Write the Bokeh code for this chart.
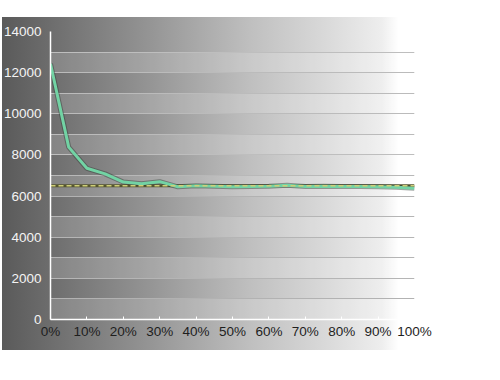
from bokeh.plotting import figure
from bokeh.models import Range1d, FixedTicker, PrintfTickFormatter, InlineStyleSheet
from bokeh.embed import file_html
from bokeh.resources import INLINE

# ---- data ----
x_pct = [0, 5, 10, 15, 20, 25, 30, 35, 40, 45, 50, 55, 60, 65, 70, 75, 80, 85, 90, 95, 100]
measured = [12430, 8380, 7350, 7080, 6680, 6600, 6700, 6450, 6500, 6480, 6450,
            6460, 6480, 6530, 6460, 6480, 6470, 6460, 6450, 6430, 6380]
target_x = [0, 100]
target_y = [6500, 6500]
y_tick_values = [0, 2000, 4000, 6000, 8000, 10000, 12000, 14000]
grid_values = [0, 1000, 2000, 3000, 4000, 5000, 6000, 7000, 8000, 9000, 10000,
               11000, 12000, 13000, 14000]
x_tick_values = [0, 10, 20, 30, 40, 50, 60, 70, 80, 90, 100]

W, H = 490, 372
css = InlineStyleSheet(css="""
:host {
  background-color: #ffffff;
  background-image: linear-gradient(to right, #5a5a5a 0%, #6c6c6c 11%, #959595 36%,
      #bfbfbf 60%, #dadada 79%, #eeeeee 92%, #ffffff 96%, #ffffff 100%);
  background-size: 413px 333px;
  background-position: 2px 17px;
  background-repeat: no-repeat;
}
""")

p = figure(width=W, height=H, output_backend="svg", toolbar_location=None,
           x_range=Range1d(0, 100), y_range=Range1d(0, 14000),
           min_border_left=48, min_border_right=W - 414,
           min_border_top=31, min_border_bottom=H - 319,
           border_fill_color=None, background_fill_color=None,
           outline_line_color=None)
p.stylesheets = [css]

# grid
p.xgrid.visible = False
p.ygrid.ticker = FixedTicker(ticks=grid_values)
p.ygrid.grid_line_color = "#b2b2b2"
p.ygrid.grid_line_width = 1

# lighter alternate bands (0-1000, 2000-3000, ...)
p.quad(left=x_tick_values[0], right=x_tick_values[-1],
       bottom=grid_values[0:-1:2], top=grid_values[1::2],
       fill_color="white", fill_alpha=0.16, line_color=None)

# axes
p.yaxis.ticker = FixedTicker(ticks=y_tick_values)
p.yaxis.axis_line_color = "white"
p.yaxis.axis_line_width = 1.5
p.yaxis.major_tick_line_color = None
p.yaxis.minor_tick_line_color = None
p.yaxis.major_label_text_color = "#f4f4f4"
p.yaxis.major_label_text_font = "Liberation Sans"
p.yaxis.major_label_text_font_size = "13.5px"
p.yaxis.major_label_standoff = 3

p.xaxis.ticker = FixedTicker(ticks=x_tick_values)
p.xaxis.formatter = PrintfTickFormatter(format="%d%%")
p.xaxis.axis_line_color = "white"
p.xaxis.axis_line_width = 1.5
p.xaxis.major_tick_line_color = "white"
p.xaxis.major_tick_in = 3
p.xaxis.major_tick_out = 0
p.xaxis.minor_tick_line_color = None
p.xaxis.major_label_text_color = "#1e1e1e"
p.xaxis.major_label_text_font = "Liberation Sans"
p.xaxis.major_label_text_font_size = "13.5px"
p.xaxis.major_label_standoff = 4

# target line base
p.line(target_x, target_y, line_color="#55552f", line_width=3)

# measured line with shadow
p.line(x_pct, measured, line_color="#2e3a34", line_width=5, line_alpha=0.45)
p.line(x_pct, measured, line_color="#72d3a4", line_width=3, line_join="round")

# target dashes on top
p.line(target_x, target_y, line_color="#cfcf78", line_width=1.6, line_dash="5 3")

open("out.html", "w").write(file_html(p, INLINE))
